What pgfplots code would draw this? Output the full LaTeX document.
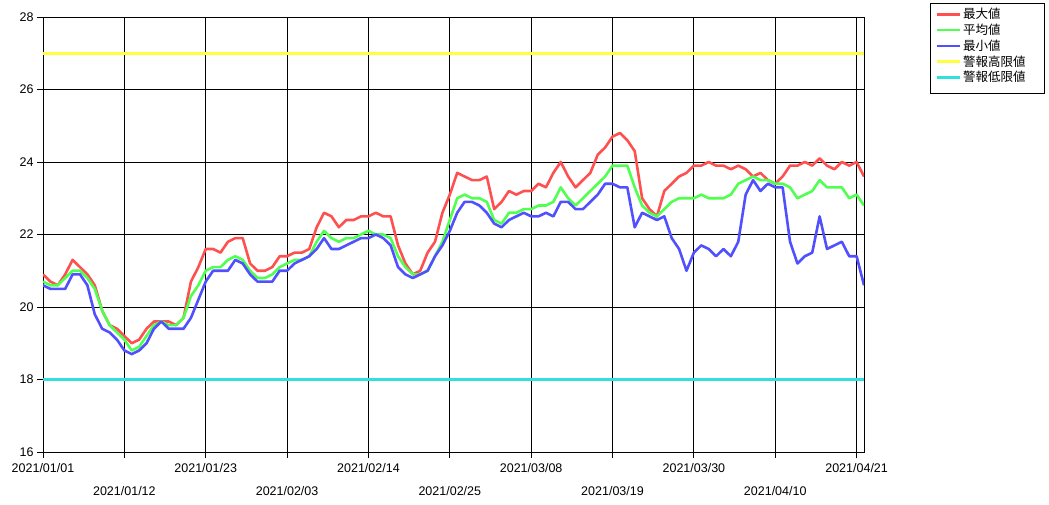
\documentclass[border=0pt]{standalone}
\usepackage{fontspec}
\setmainfont{Liberation Sans}
\newfontfamily\cjk{Noto Sans CJK JP}
\usepackage{pgfplots}
\usepackage{pgfplotstable}
\pgfplotsset{compat=1.18}
\definecolor{cmax}{RGB}{255,80,80}
\definecolor{cavg}{RGB}{80,255,80}
\definecolor{cmin}{RGB}{80,80,255}
\definecolor{chi}{RGB}{255,255,64}
\definecolor{clo}{RGB}{48,224,224}

\pgfplotstableread{
d mx av mn
0 20.9 20.7 20.6
1 20.7 20.6 20.5
2 20.6 20.6 20.5
3 20.9 20.8 20.5
4 21.3 21.0 20.9
5 21.1 21.0 20.9
6 20.9 20.8 20.6
7 20.6 20.5 19.8
8 19.9 19.9 19.4
9 19.5 19.5 19.3
10 19.4 19.3 19.1
11 19.2 19.1 18.8
12 19.0 18.8 18.7
13 19.1 18.9 18.8
14 19.4 19.2 19.0
15 19.6 19.5 19.4
16 19.6 19.6 19.6
17 19.6 19.5 19.4
18 19.5 19.5 19.4
19 19.7 19.7 19.4
20 20.7 20.3 19.7
21 21.1 20.6 20.2
22 21.6 21.0 20.7
23 21.6 21.1 21.0
24 21.5 21.1 21.0
25 21.8 21.3 21.0
26 21.9 21.4 21.3
27 21.9 21.3 21.2
28 21.2 21.0 20.9
29 21.0 20.8 20.7
30 21.0 20.8 20.7
31 21.1 20.9 20.7
32 21.4 21.1 21.0
33 21.4 21.2 21.0
34 21.5 21.3 21.2
35 21.5 21.3 21.3
36 21.6 21.4 21.4
37 22.2 21.8 21.6
38 22.6 22.1 21.9
39 22.5 21.9 21.6
40 22.2 21.8 21.6
41 22.4 21.9 21.7
42 22.4 21.9 21.8
43 22.5 22.0 21.9
44 22.5 22.1 21.9
45 22.6 22.0 22.0
46 22.5 22.0 21.9
47 22.5 21.9 21.7
48 21.7 21.4 21.1
49 21.2 21.1 20.9
50 20.9 20.9 20.8
51 21.0 20.9 20.9
52 21.5 21.0 21.0
53 21.8 21.4 21.4
54 22.6 21.8 21.7
55 23.1 22.4 22.1
56 23.7 23.0 22.6
57 23.6 23.1 22.9
58 23.5 23.0 22.9
59 23.5 23.0 22.8
60 23.6 22.9 22.6
61 22.7 22.4 22.3
62 22.9 22.3 22.2
63 23.2 22.6 22.4
64 23.1 22.6 22.5
65 23.2 22.7 22.6
66 23.2 22.7 22.5
67 23.4 22.8 22.5
68 23.3 22.8 22.6
69 23.7 22.9 22.5
70 24.0 23.3 22.9
71 23.6 23.0 22.9
72 23.3 22.8 22.7
73 23.5 23.0 22.7
74 23.7 23.2 22.9
75 24.2 23.4 23.1
76 24.4 23.6 23.4
77 24.7 23.9 23.4
78 24.8 23.9 23.3
79 24.6 23.9 23.3
80 24.3 23.3 22.2
81 23.0 22.8 22.6
82 22.7 22.6 22.5
83 22.5 22.5 22.4
84 23.2 22.7 22.5
85 23.4 22.9 21.9
86 23.6 23.0 21.6
87 23.7 23.0 21.0
88 23.9 23.0 21.5
89 23.9 23.1 21.7
90 24.0 23.0 21.6
91 23.9 23.0 21.4
92 23.9 23.0 21.6
93 23.8 23.1 21.4
94 23.9 23.4 21.8
95 23.8 23.5 23.1
96 23.6 23.6 23.5
97 23.7 23.5 23.2
98 23.5 23.5 23.4
99 23.4 23.4 23.3
100 23.6 23.4 23.3
101 23.9 23.3 21.8
102 23.9 23.0 21.2
103 24.0 23.1 21.4
104 23.9 23.2 21.5
105 24.1 23.5 22.5
106 23.9 23.3 21.6
107 23.8 23.3 21.7
108 24.0 23.3 21.8
109 23.9 23.0 21.4
110 24.0 23.1 21.4
111 23.6 22.8 20.6
}\data

\begin{document}
\begin{tikzpicture}
\path[use as bounding box] (0,0) rectangle (1049bp,505bp);
\begin{axis}[
  at={(43bp,53bp)}, anchor=south west,
  width=821bp, height=435bp, scale only axis,
  xmin=0, xmax=111, ymin=16, ymax=28,
  ytick={16,18,...,28},
  xtick={0,22,...,110},
  xticklabels={2021/01/01,2021/01/23,2021/02/14,2021/03/08,2021/03/30,2021/04/21},
  extra x ticks={11,33,...,99},
  extra x tick labels={2021/01/12,2021/02/03,2021/02/25,2021/03/19,2021/04/10},
  extra x tick style={xticklabel style={yshift=-23bp}},
  xticklabel style={yshift=-2bp},
  tick pos=left,
  grid=major,
  major grid style={black, line width=0.9bp},
  axis line style={black, line width=0.9bp},
  tick style={black, line width=0.9bp},
  tick align=outside,
  major tick length=6bp,
  ticklabel style={font=\fontsize{12.5bp}{15bp}\selectfont, text=black},
  /pgf/number format/assume math mode=true,
  legend style={at={(axis description cs:1.0804,1.032)}, anchor=north west,
    draw=black, line width=0.8bp, fill=white,
    font=\cjk\fontsize{12.5bp}{14bp}\selectfont,
    row sep=-0.3bp, inner xsep=5bp, inner ysep=3bp,
    cells={anchor=west}},
  legend image code/.code={\draw[#1, line width=2.6bp] (0bp,0bp) -- (23bp,0bp);},
  every axis plot/.append style={line width=2.6bp, line join=round, no markers},
]
\addplot[cmax] table[x=d, y=mx] {\data};
\addlegendentry{\makebox[74bp][l]{最大値}}
\addplot[cavg] table[x=d, y=av] {\data};
\addlegendentry{\makebox[74bp][l]{平均値}}
\addplot[cmin] table[x=d, y=mn] {\data};
\addlegendentry{\makebox[74bp][l]{最小値}}
\addplot[chi] coordinates {(0,27) (111,27)};
\addlegendentry{\makebox[74bp][l]{警報高限値}}
\addplot[clo] coordinates {(0,18) (111,18)};
\addlegendentry{\makebox[74bp][l]{警報低限値}}
\addlegendimage{empty legend}
\addlegendentry{}
\end{axis}
\end{tikzpicture}
\end{document}
